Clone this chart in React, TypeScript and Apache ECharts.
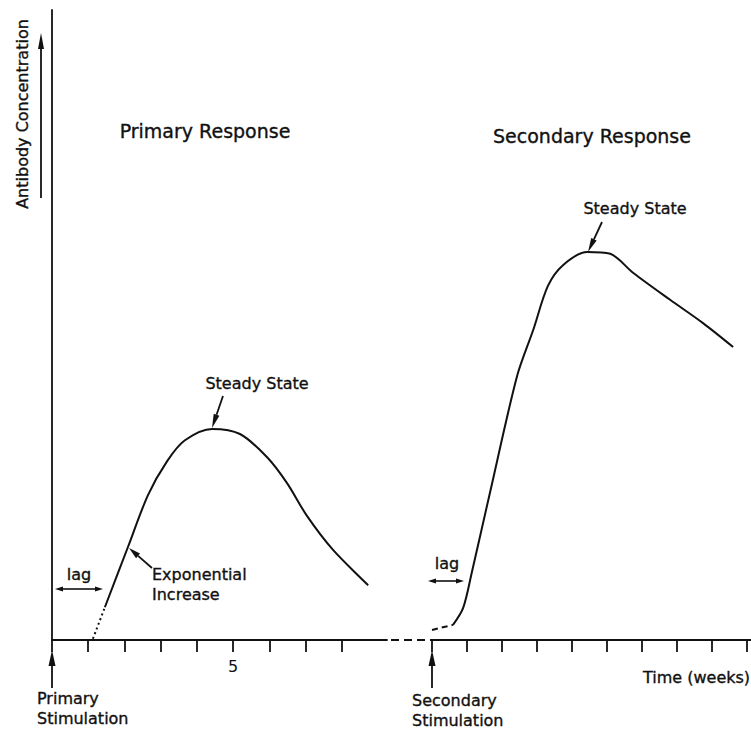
import React, { useEffect, useRef } from "react";
import * as echarts from "echarts";

// ---- data (weeks after stimulation, relative antibody concentration) ----
const primaryLagWeeks = [1.13, 1.46];
const primaryLagConc = [0.2, 5.2];
const primaryWeeks = [1.46, 2.1, 2.65, 3.18, 3.67, 4.42, 5.19, 5.94, 6.49, 7.04, 7.76, 8.73];
const primaryConc = [5.2, 14.8, 23.0, 28.4, 31.7, 33.5, 32.7, 29.0, 24.9, 19.7, 14.3, 8.7];

const secondaryLagWeeks = [0, 0.6];
const secondaryLagConc = [1.6, 2.4];
const secondaryWeeks = [0.6, 0.89, 1.14, 1.66, 2.43, 2.89, 3.31, 3.74, 4.43, 5.09, 5.74, 6.8, 7.74, 8.6];
const secondaryConc = [2.4, 5.1, 10.8, 23.5, 41.9, 49.2, 56.2, 59.5, 61.6, 61.3, 58.3, 54.0, 50.3, 46.5];

const primaryTicks = [0, 1, 2, 3, 4, 5, 6, 7, 8];
const primaryTickLabels = [5];
const secondaryTicks = [0, 1, 2, 3, 4, 5, 6, 7, 8, 9];

const zip = (xs: number[], ys: number[]) => xs.map((x, i) => [x, ys[i]]);

const FONT = "DejaVu Sans";
const INK = "#111";

function arrow(x1: number, y1: number, x2: number, y2: number, hl = 14, hw = 6, lw = 1.8) {
  const dx = x2 - x1;
  const dy = y2 - y1;
  const len = Math.sqrt(dx * dx + dy * dy);
  const ux = dx / len;
  const uy = dy / len;
  const bx = x2 - ux * hl;
  const by = y2 - uy * hl;
  const px = -uy * (hw / 2);
  const py = ux * (hw / 2);
  return [
    { type: "line", shape: { x1, y1, x2: bx, y2: by }, style: { stroke: INK, lineWidth: lw } },
    {
      type: "polygon",
      shape: { points: [[x2, y2], [bx + px, by + py], [bx - px, by - py]] },
      style: { fill: INK },
    },
  ];
}

function doubleArrow(x1: number, x2: number, y: number, hl = 8, hw = 5) {
  return [
    { type: "line", shape: { x1: x1 + hl, y1: y, x2: x2 - hl, y2: y }, style: { stroke: INK, lineWidth: 1.6 } },
    { type: "polygon", shape: { points: [[x1, y], [x1 + hl, y - hw / 2], [x1 + hl, y + hw / 2]] }, style: { fill: INK } },
    { type: "polygon", shape: { points: [[x2, y], [x2 - hl, y - hw / 2], [x2 - hl, y + hw / 2]] }, style: { fill: INK } },
  ];
}

function label(text: string, x: number, y: number, size = 16, align = "center", extra: any = {}) {
  return {
    type: "text",
    x,
    y,
    ...extra,
    style: {
      text,
      fill: INK,
      stroke: INK,
      lineWidth: 0.35,
      font: `${size}px "${FONT}"`,
      textAlign: align,
      textVerticalAlign: "middle",
    },
  };
}

export default function App() {
  const ref = useRef<HTMLDivElement>(null);

  useEffect(() => {
    if (!ref.current) return;
    const chart = echarts.init(ref.current, undefined, { renderer: "svg" });

    const g1Left = 52;
    const g1Width = 335;
    const g2Left = 432;
    const axisY = 640;

    const axisCommon = {
      type: "value",
      min: 0,
      interval: 1,
      splitLine: { show: false },
      axisLine: { show: true, lineStyle: { color: INK, width: 1.8 } },
    };

    const curve = {
      type: "line",
      smooth: 0.3,
      showSymbol: false,
      lineStyle: { color: INK, width: 2 },
    };

    const option: any = {
      animation: false,
      backgroundColor: "#fff",
      grid: [
        { left: g1Left, top: 10, width: g1Width, height: 630 },
        { left: g2Left, top: 10, right: 0, height: 630 },
      ],
      xAxis: [
        {
          ...axisCommon,
          gridIndex: 0,
          max: 9.25,
          axisTick: { show: true, customValues: primaryTicks, length: 12, lineStyle: { color: INK, width: 1.8 } },
          axisLabel: {
            show: true,
            customValues: primaryTickLabels,
            margin: 18,
            color: INK,
            fontSize: 16,
            fontFamily: FONT,
          },
        },
        {
          ...axisCommon,
          gridIndex: 1,
          max: 9.11,
          axisTick: { show: true, customValues: secondaryTicks, length: 12, lineStyle: { color: INK, width: 1.8 } },
          axisLabel: { show: false },
        },
      ],
      yAxis: [
        {
          type: "value",
          gridIndex: 0,
          min: 0,
          max: 100,
          splitLine: { show: false },
          axisTick: { show: false },
          axisLabel: { show: false },
          axisLine: { show: true, lineStyle: { color: INK, width: 1.8 } },
        },
        { type: "value", gridIndex: 1, min: 0, max: 100, show: false },
      ],
      series: [
        {
          name: "Primary lag",
          type: "line",
          xAxisIndex: 0,
          yAxisIndex: 0,
          data: zip(primaryLagWeeks, primaryLagConc),
          showSymbol: false,
          lineStyle: { color: INK, width: 2, type: [2, 3] },
        },
        {
          ...curve,
          name: "Primary Response",
          xAxisIndex: 0,
          yAxisIndex: 0,
          data: zip(primaryWeeks, primaryConc),
        },
        {
          name: "Secondary lag",
          type: "line",
          xAxisIndex: 1,
          yAxisIndex: 1,
          data: zip(secondaryLagWeeks, secondaryLagConc),
          showSymbol: false,
          lineStyle: { color: INK, width: 2, type: [6, 4] },
        },
        {
          ...curve,
          name: "Secondary Response",
          xAxisIndex: 1,
          yAxisIndex: 1,
          data: zip(secondaryWeeks, secondaryConc),
        },
      ],
      graphic: [
        // broken part of the time axis between the two responses
        {
          type: "line",
          shape: { x1: g1Left + g1Width + 4, y1: axisY, x2: g2Left, y2: axisY },
          style: { stroke: INK, lineWidth: 1.8, lineDash: [8, 5] },
        },
        label("Primary Response", 205, 131, 19),
        label("Secondary Response", 592, 136, 19),
        label("Antibody Concentration", 22, 114, 16, "center", { rotation: Math.PI / 2 }),
        ...arrow(41, 198, 41, 33, 16, 6),
        label("Steady State", 257, 383, 16),
        ...arrow(223, 396, 212, 428, 14, 6),
        label("Steady State", 635, 208, 16),
        ...arrow(602, 222, 588, 252, 14, 6),
        label("Exponential", 152, 574, 16, "left"),
        label("Increase", 152, 594, 16, "left"),
        ...arrow(152, 568, 129, 548, 12, 6),
        label("lag", 79, 574, 16),
        ...doubleArrow(55, 103, 589),
        label("lag", 447, 563, 16),
        ...doubleArrow(428, 464, 581),
        label("Time (weeks)", 643, 677, 16, "left"),
        ...arrow(52, 688, 52, 650, 16, 7),
        label("Primary", 37, 698, 16, "left"),
        label("Stimulation", 37, 718, 16, "left"),
        ...arrow(432, 688, 432, 650, 16, 7),
        label("Secondary", 412, 700, 16, "left"),
        label("Stimulation", 412, 720, 16, "left"),
      ],
    };

    chart.setOption(option);
    return () => chart.dispose();
  }, []);

  return (
    <div
      ref={ref}
      style={{ position: "fixed", left: 0, top: 0, width: 751, height: 730, background: "#fff" }}
    />
  );
}
